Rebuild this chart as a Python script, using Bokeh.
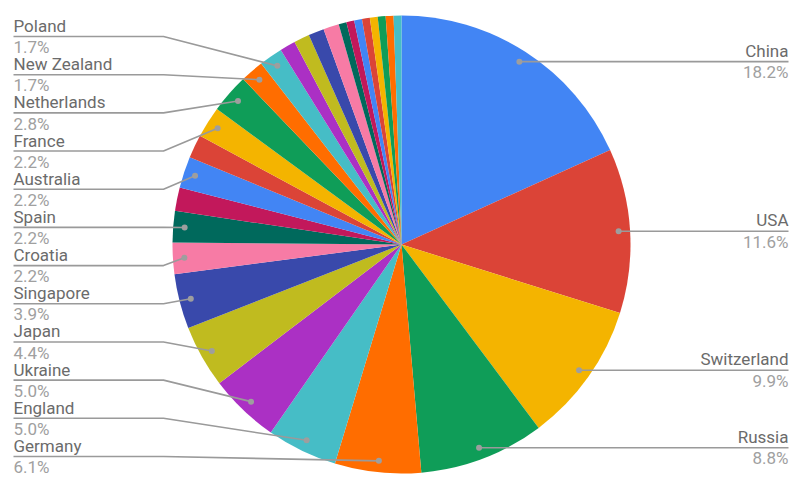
import math
from bokeh.plotting import figure
from bokeh.models import Range1d, ColumnDataSource
from bokeh.core.properties import value
from bokeh.embed import file_html
from bokeh.resources import INLINE

# ---- data (counts; labels show share of total) ----
countries = ["China", "USA", "Switzerland", "Russia", "Germany", "England",
             "Ukraine", "Japan", "Singapore", "Croatia", "Spain", "",
             "Australia", "", "France", "Netherlands", "New Zealand", "Poland",
             "", "", "", "", "", "", "", "", "", "", "", ""]
counts = [33, 21, 18, 16, 11, 9, 9, 8, 7, 4, 4, 3, 4, 3, 4, 5, 3, 3,
          2, 2, 2, 2, 1, 1, 1, 1, 1, 1, 1, 1]
palette = ["#4285F4", "#DB4437", "#F4B400", "#0F9D58", "#FF6D00", "#46BDC6",
           "#AB30C4", "#C0BB1F", "#3949AB", "#F77BA5", "#00695C", "#C2185B"]
right_labels = ["China", "USA", "Switzerland", "Russia"]
left_labels = ["Poland", "New Zealand", "Netherlands", "France", "Australia",
               "Spain", "Croatia", "Singapore", "Japan", "Ukraine", "England",
               "Germany"]

W, H = 800, 487
def Y(y):  # reference pixel row -> data y
    return H - y

p = figure(width=W, height=H, output_backend="svg", toolbar_location=None,
           x_range=Range1d(0, W), y_range=Range1d(0, H),
           min_border=0, outline_line_color=None)
p.axis.visible = False
p.grid.visible = False
p.background_fill_color = "white"
p.border_fill_color = "white"

cx, cy, r = 401, Y(244), 229
total = sum(counts)
starts, ends, mids, cols = [], [], [], []
cum = 0
for i, c in enumerate(counts):
    a0 = math.pi / 2 - 2 * math.pi * cum / total
    a1 = math.pi / 2 - 2 * math.pi * (cum + c) / total
    starts.append(a1)
    ends.append(a0)
    mids.append((a0 + a1) / 2)
    cols.append(palette[i % len(palette)])
    cum += c

src = ColumnDataSource(dict(x=[cx] * len(counts), y=[cy] * len(counts),
                            s=starts, e=ends, c=cols))
p.wedge(x="x", y="y", radius=r, start_angle="s", end_angle="e",
        fill_color="c", line_color=None, source=src)

name_col = "#6b6b6b"
pct_col = "#a0a0a0"
line_col = "#9a9a9a"
font = value("Roboto")
fs = "17px"
NAME_OFF = 11.0   # name baseline above the leader line
PCT_OFF = -10.7   # percent baseline below the leader line

def pct(i):
    return f"{100 * counts[i] / total:.1f}%"

dot_x, dot_y = [], []
# right side labels
for name in right_labels:
    i = countries.index(name)
    dx = cx + 0.95 * r * math.cos(mids[i])
    dy = cy + 0.95 * r * math.sin(mids[i])
    dot_x.append(dx); dot_y.append(dy)
    p.line([dx, 788], [dy, dy], line_color=line_col, line_width=1.6)
    p.text([788], [dy + NAME_OFF], text=[name], text_align="right",
           text_baseline="alphabetic", text_font=font, text_font_size=fs,
           text_color=name_col)
    p.text([788], [dy + PCT_OFF], text=[pct(i)], text_align="right",
           text_baseline="alphabetic", text_font=font, text_font_size=fs,
           text_color=pct_col)

# left side labels
for k, name in enumerate(left_labels):
    i = countries.index(name)
    ly = Y(36 + k * 38.18)
    dx = cx + 0.95 * r * math.cos(mids[i])
    dy = cy + 0.95 * r * math.sin(mids[i])
    dot_x.append(dx); dot_y.append(dy)
    p.line([13, 163, dx], [ly, ly, dy], line_color=line_col, line_width=1.6)
    p.text([13], [ly + NAME_OFF - 0.5], text=[name], text_align="left",
           text_baseline="alphabetic", text_font=font, text_font_size=fs,
           text_color=name_col)
    p.text([13], [ly + PCT_OFF], text=[pct(i)], text_align="left",
           text_baseline="alphabetic", text_font=font, text_font_size=fs,
           text_color=pct_col)

p.scatter(dot_x, dot_y, size=6, fill_color="#9e9e9e", line_color=None)

open("out.html", "w").write(file_html(p, INLINE))
